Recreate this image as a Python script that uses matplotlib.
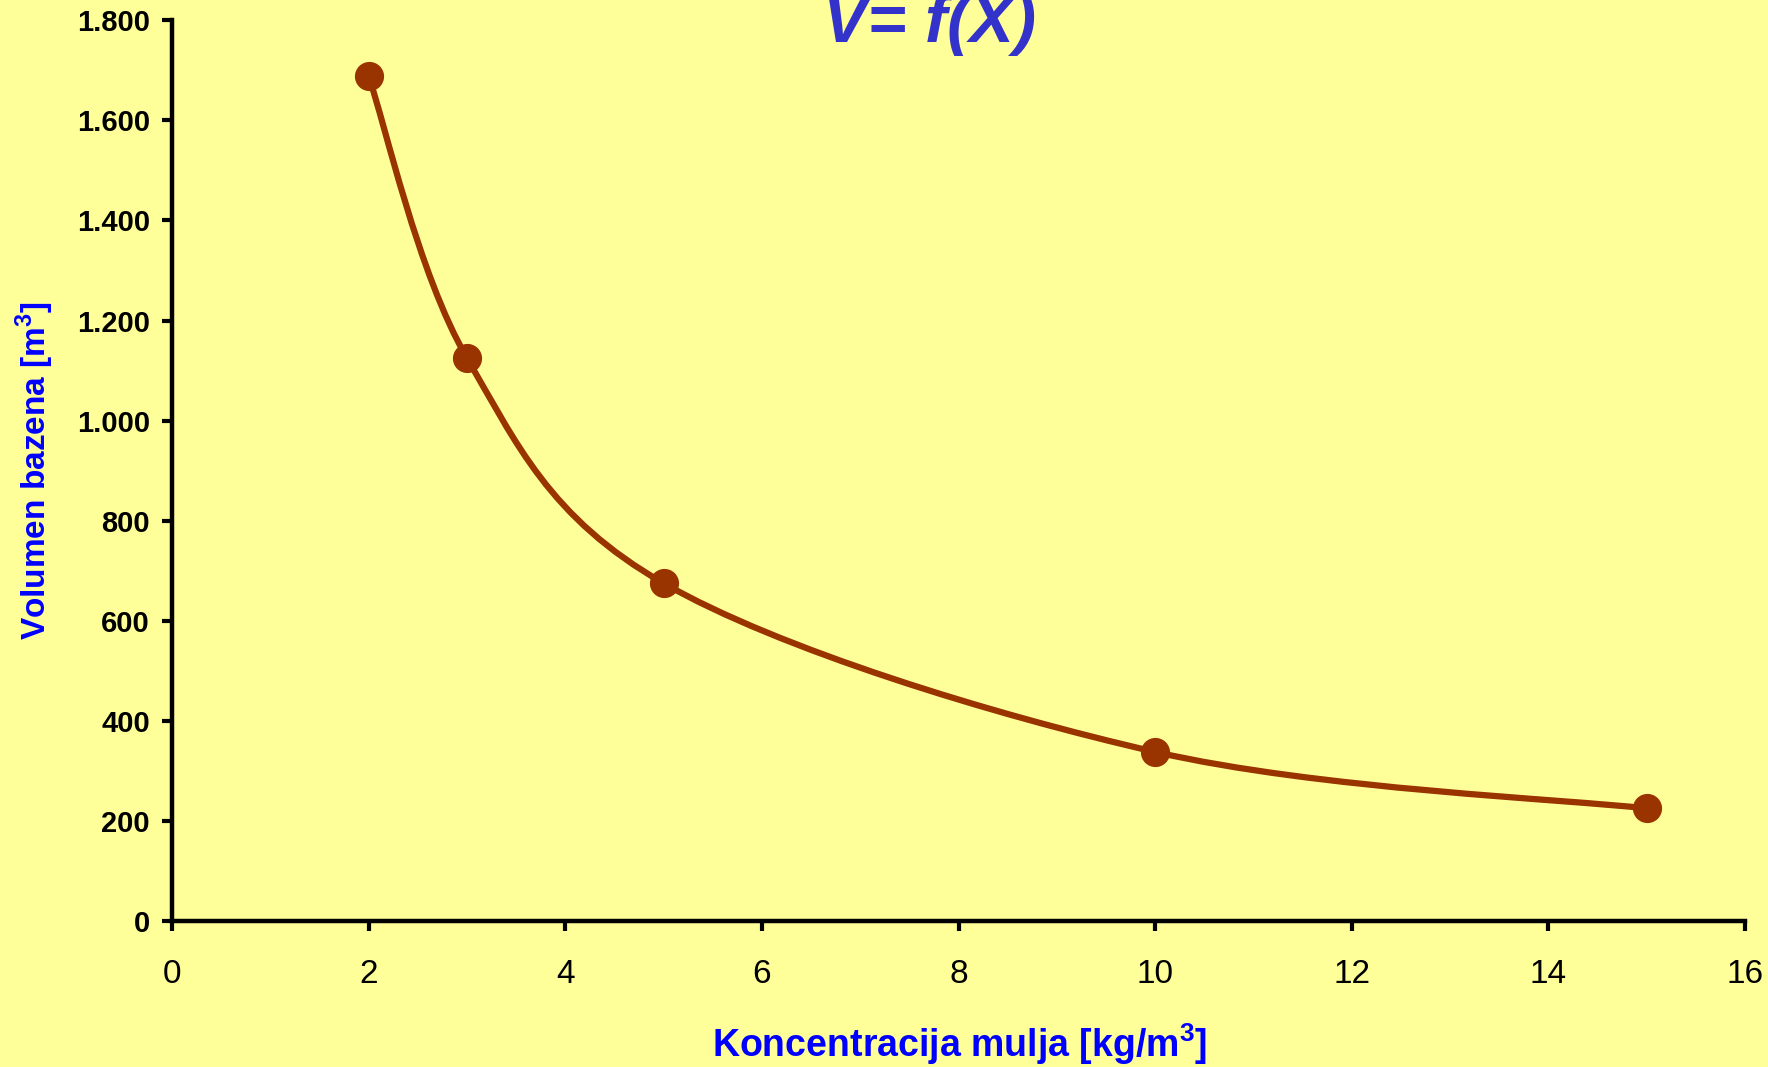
import numpy as np
import matplotlib
matplotlib.use("Agg")
import matplotlib.pyplot as plt
from matplotlib.path import Path
from matplotlib.patches import PathPatch
from matplotlib.ticker import FuncFormatter, MultipleLocator

plt.rcParams['font.family'] = ['Liberation Sans', 'DejaVu Sans']
plt.rcParams['mathtext.fontset'] = 'custom'
plt.rcParams['mathtext.rm'] = 'Liberation Sans'
plt.rcParams['mathtext.bf'] = 'Liberation Sans:bold'

# === data ===
konc = [2, 3, 5, 10, 15]                 # kg/m3
volumen = [1688, 1125, 675, 338, 225]    # m3

bg = "#FFFF99"
line_col = "#993300"

fig = plt.figure(figsize=(17.68, 10.67), dpi=100, facecolor=bg)
ax = fig.add_axes([0.0973, 0.1368, 0.8897, 0.8442], facecolor=bg)

# smoothed line (Excel-style bezier through the points)
P = np.column_stack([konc, volumen]).astype(float)
n = len(P)
verts = [P[0]]
codes = [Path.MOVETO]
for i in range(n - 1):
    p_prev = P[i - 1] if i > 0 else P[i]
    p_next2 = P[i + 2] if i + 2 < n else P[i + 1]
    c1 = P[i] + (P[i + 1] - p_prev) / 6.0
    c2 = P[i + 1] - (p_next2 - P[i]) / 6.0
    verts += [c1, c2, P[i + 1]]
    codes += [Path.CURVE4] * 3
ax.add_patch(PathPatch(Path(verts, codes), facecolor="none", edgecolor=line_col,
                       lw=4.5, capstyle="round", joinstyle="round"))
ax.plot(konc, volumen, "o", ms=20, color=line_col, mec=line_col)

ax.set_xlim(0, 16)
ax.set_ylim(0, 1800)
ax.xaxis.set_major_locator(MultipleLocator(2))
ax.yaxis.set_major_locator(MultipleLocator(200))
ax.yaxis.set_major_formatter(FuncFormatter(lambda v, p: f"{v:,.0f}".replace(",", ".")))

for s in ["top", "right"]:
    ax.spines[s].set_visible(False)
for s in ["left", "bottom"]:
    ax.spines[s].set_linewidth(3.2)
ax.tick_params(axis="both", direction="out", length=7, width=3, color="black")
ax.tick_params(axis="x", labelsize=24, pad=20)
ax.tick_params(axis="y", labelsize=21, pad=9)
for lbl in ax.get_yticklabels():
    lbl.set_fontweight("bold")

fig.text(0.5430, 1 - 1057 / 1067, r"Koncentracija mulja [kg/m$^{\mathbf{3}}$]",
         ha="center", va="baseline", fontsize=27, fontweight="bold", color="#0000FF")
fig.text(14 / 1768, 0.5592, r"Volumen bazena [m$^{\mathbf{3}}$]", rotation=90,
         ha="left", va="center", fontsize=24, fontweight="bold", color="#0000FF")
fig.text(0.5255, 1 - 42 / 1067, "V= f(X)", ha="center", va="baseline",
         fontsize=48, fontweight="bold", fontstyle="italic", color="#3333CC")

fig.savefig("out.png", dpi=100, facecolor=bg)
